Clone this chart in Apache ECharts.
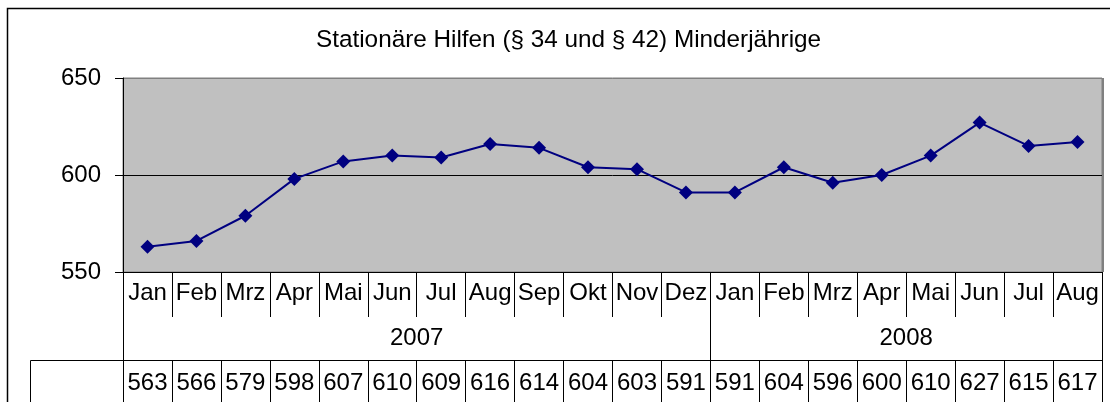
<!DOCTYPE html>
<html>
<head>
<meta charset="utf-8">
<script src="https://cdn.jsdelivr.net/npm/echarts@6/dist/echarts.min.js"></script>
<style>
  html, body { margin: 0; padding: 0; background: #fff; }
  #chart { width: 1110px; height: 402px; }
</style>
</head>
<body>
<div id="chart"></div>
<script>
const titleText = 'Stationäre Hilfen (§ 34 und § 42) Minderjährige';
const months = ['Jan','Feb','Mrz','Apr','Mai','Jun','Jul','Aug','Sep','Okt','Nov','Dez',
                'Jan','Feb','Mrz','Apr','Mai','Jun','Jul','Aug'];
const years = ['2007', '2008'];
const monthsPerYear = [12, 8];
const values = [563, 566, 579, 598, 607, 610, 609, 616, 614, 604, 603, 591,
                591, 604, 596, 600, 610, 627, 615, 617];
const yTicks = [550, 600, 650];

// year boundaries and centres in month units
const yearBounds = [0];
monthsPerYear.forEach(n => yearBounds.push(yearBounds[yearBounds.length - 1] + n));
const yearCenters = years.map((y, i) => (yearBounds[i] + yearBounds[i + 1]) / 2);

const FONT = 'Liberation Sans, Arial, sans-serif';
const chart = echarts.init(document.getElementById('chart'));
chart.setOption({
  animation: false,
  title: {
    text: titleText,
    left: 311, top: 23,
    textStyle: { fontFamily: FONT, fontSize: 24.3, fontWeight: 'normal', color: '#000' }
  },
  grid: {
    left: 123, top: 78, width: 979, height: 194,
    show: true, backgroundColor: '#c0c0c0', borderColor: '#808080', borderWidth: 1
  },
  xAxis: [
    {
      type: 'category', data: months, position: 'bottom', boundaryGap: true,
      axisLine: { show: true, lineStyle: { color: '#000', width: 1 } },
      axisTick: { show: true, interval: 0, length: 45, lineStyle: { color: '#000' } },
      axisLabel: { interval: 0, margin: 9, fontFamily: FONT, fontSize: 24, color: '#000' },
      splitLine: { show: false }
    },
    {
      type: 'value', min: 0, max: yearBounds[yearBounds.length - 1], position: 'bottom',
      axisLine: { show: false },
      axisTick: { show: true, customValues: yearBounds, length: 130, lineStyle: { color: '#000' } },
      axisLabel: {
        customValues: yearCenters, margin: 54, fontFamily: FONT, fontSize: 24, color: '#000',
        formatter: v => years[yearCenters.indexOf(v)] || ''
      },
      splitLine: { show: false }
    },
    {
      type: 'category', data: values.map(String), position: 'bottom', offset: 88, boundaryGap: true,
      axisLine: { show: true, lineStyle: { color: '#000', width: 1 } },
      axisTick: { show: true, interval: 0, length: 42, lineStyle: { color: '#000' } },
      axisLabel: { interval: 0, margin: 11, fontFamily: FONT, fontSize: 24, color: '#000' },
      splitLine: { show: false }
    }
  ],
  yAxis: {
    type: 'value', min: yTicks[0], max: yTicks[yTicks.length - 1], interval: 50,
    axisLine: { show: true, lineStyle: { color: '#000', width: 1 } },
    axisTick: { show: true, length: 8, lineStyle: { color: '#000' } },
    axisLabel: { margin: 22, fontFamily: FONT, fontSize: 24, color: '#000' },
    splitLine: { show: true, lineStyle: { color: ['#000', '#000', '#808080'], width: 1 } }
  },
  series: [{
    type: 'line', xAxisIndex: 0, data: values,
    symbol: 'diamond', symbolSize: 14,
    itemStyle: { color: '#000080' },
    lineStyle: { color: '#000080', width: 2 }
  }],
  graphic: [
    { type: 'polyline', shape: { points: [[7.5, 402], [7.5, 8.5], [1110, 8.5]] },
      style: { stroke: '#000', lineWidth: 1.5, fill: null } },
    { type: 'polyline', shape: { points: [[30.5, 402], [30.5, 360.5], [123, 360.5]] },
      style: { stroke: '#000', lineWidth: 1, fill: null } },
    { type: 'polyline', shape: { points: [[1103, 78], [1103, 272]] },
      style: { stroke: '#808080', lineWidth: 2, fill: null } }
  ]
});
</script>
</body>
</html>
